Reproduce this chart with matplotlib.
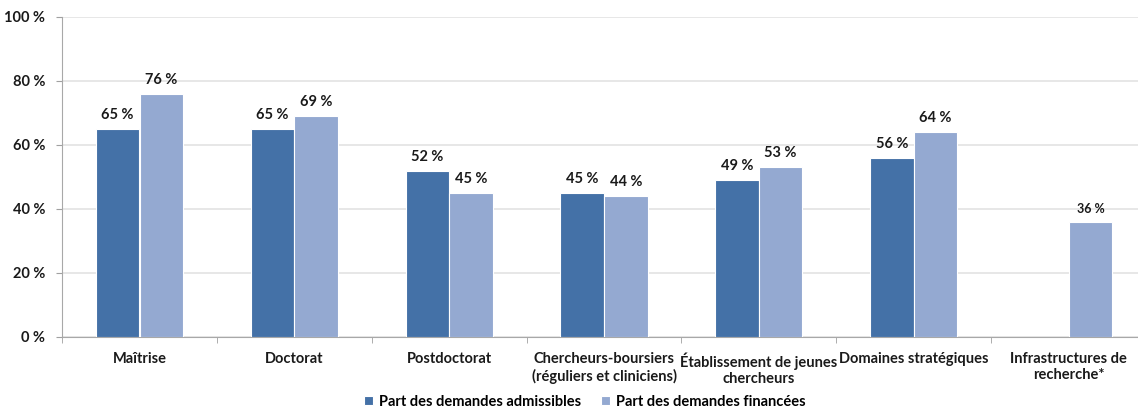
"""
Part des demandes admissibles / financées par programme
"""
import numpy
import matplotlib
matplotlib.use('Agg')
import matplotlib.pyplot as plt

categories = ['Maîtrise', 'Doctorat', 'Postdoctorat',
              'Chercheurs-boursiers\n(réguliers et cliniciens)',
              'Établissement de jeunes\nchercheurs',
              'Domaines stratégiques',
              'Infrastructures de\nrecherche*']
admissibles = [65, 65, 52, 45, 49, 56, None]
financees = [76, 69, 45, 44, 53, 64, 36]
series_names = ['Part des demandes admissibles', 'Part des demandes financées']
yticks = [0, 20, 40, 60, 80, 100]

dark = '#4471A7'
light = '#94A9D1'
txt = '#1A1A1A'

plt.rcParams['font.family'] = ['Lato', 'DejaVu Sans']
plt.rcParams['font.weight'] = 'bold'

W, H = 1138, 409
fig = plt.figure(figsize=(W/100, H/100), dpi=100)
ax = fig.add_axes([62/W, (H - 337)/H, (1146 - 62)/W, 320/H])

x = numpy.arange(len(categories))
width = 0.28
off = 0.141

for k, v in enumerate(admissibles):
    if v is None:
        continue
    ax.bar(x[k] - off, v, width, color=dark, edgecolor='white', linewidth=0.8,
           label=series_names[0] if k == 0 else None, zorder=3)
    ax.text(x[k] - off, v + 2.2, '{:} %'.format(v), ha='center', va='bottom',
            fontsize=10.5, fontweight='bold', color=txt)
for k, v in enumerate(financees):
    xc = x[k] + off
    ax.bar(xc, v, width, color=light, edgecolor='white', linewidth=0.8,
           label=series_names[1] if k == 0 else None, zorder=3)
    fs = 10.5 if admissibles[k] is not None else 9
    ax.text(xc, v + 2.2, '{:} %'.format(v), ha='center', va='bottom',
            fontsize=fs, fontweight='bold', color=txt)

ax.set_xlim(-0.5, len(categories) - 0.5)
ax.set_ylim(0, 100)
ax.set_yticks(yticks)
ax.set_yticklabels(['{:} %'.format(t) for t in yticks], fontsize=10.5,
                   fontweight='bold', color=txt)
ax.yaxis.grid(True, color='#E3E3E3', linewidth=1.2, zorder=0)
ax.set_axisbelow(True)

ax.set_xticks(x)
ax.set_xticklabels(categories, fontsize=10.5, fontweight='bold', color=txt)
ax.tick_params(axis='x', length=0, pad=11)
ax.set_xticks(numpy.arange(len(categories) + 1) - 0.5, minor=True)
ax.tick_params(axis='x', which='minor', length=4, color='#A0A0A0', direction='out')
ax.tick_params(axis='y', length=4, color='#A0A0A0', pad=8)

for s in ['top', 'right']:
    ax.spines[s].set_visible(False)
ax.spines['left'].set_color('#A8A8A8')
ax.spines['bottom'].set_color('#A8A8A8')

fig.legend(loc='center', bbox_to_anchor=(585/W, 1 - 402/H), ncol=2, frameon=False,
           fontsize=10.5, handlelength=0.6, handleheight=0.6, handletextpad=0.4,
           columnspacing=1.4)

fig.savefig('out.png', dpi=100)
